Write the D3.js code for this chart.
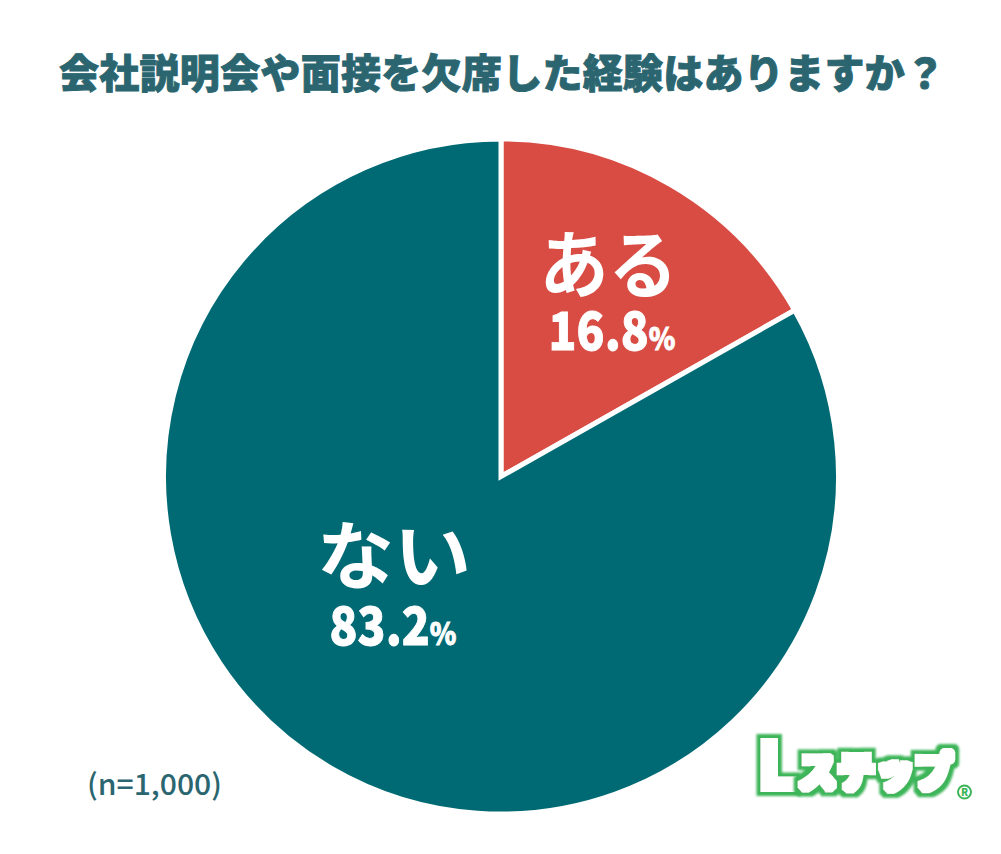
<!DOCTYPE html>
<html>
<head>
<meta charset="utf-8">
<script src="https://cdn.jsdelivr.net/npm/d3@7"></script>
<style>
  html, body { margin: 0; padding: 0; background: #fff; }
  svg { display: block; }
  text { font-family: "Noto Sans CJK JP", "Noto Sans", sans-serif; }
</style>
</head>
<body>
<svg id="chart" width="1001" height="854"></svg>
<script>
const title = "会社説明会や面接を欠席した経験はありますか？";
const sampleNote = "(n=1,000)";
const categories = ["ある", "ない"];
const shares = [16.8, 83.2];
const colors = ["#d84c43", "#006a74"];

const svg = d3.select("#chart");
const cx = 501, cy = 476.5, radius = 337.5;
const green = "#3cb558";

// logo outline: white core and green rim grown out of the glyph shape
const filter = svg.append("defs").append("filter")
  .attr("id", "logoOutline")
  .attr("x", "-30%").attr("y", "-30%").attr("width", "160%").attr("height", "160%");
filter.append("feMorphology").attr("in", "SourceAlpha").attr("operator", "dilate").attr("radius", 7).attr("result", "outer");
filter.append("feGaussianBlur").attr("in", "outer").attr("stdDeviation", 1.2).attr("result", "outerSoft");
filter.append("feFlood").attr("flood-color", green).attr("result", "greenFill");
filter.append("feComposite").attr("in", "greenFill").attr("in2", "outerSoft").attr("operator", "in").attr("result", "rim");
filter.append("feMorphology").attr("in", "SourceAlpha").attr("operator", "dilate").attr("radius", 2.5).attr("result", "inner");
filter.append("feGaussianBlur").attr("in", "inner").attr("stdDeviation", 0.7).attr("result", "innerSoft");
filter.append("feFlood").attr("flood-color", "#fff").attr("result", "whiteFill");
filter.append("feComposite").attr("in", "whiteFill").attr("in2", "innerSoft").attr("operator", "in").attr("result", "core");
const merge = filter.append("feMerge");
merge.append("feMergeNode").attr("in", "rim");
merge.append("feMergeNode").attr("in", "core");

svg.append("text")
  .attr("x", 59).attr("y", 88)
  .attr("fill", "#2b6670")
  .attr("stroke", "#2b6670")
  .attr("stroke-width", 0.9)
  .attr("font-size", 40)
  .attr("font-weight", 900)
  .attr("textLength", 886)
  .attr("lengthAdjust", "spacing")
  .text(title);

const pie = d3.pie().sort(null).value(d => d.value);
const arc = d3.arc().innerRadius(0).outerRadius(radius);
const rows = categories.map((c, i) => ({ name: c, value: shares[i], color: colors[i] }));
const arcs = pie(rows);

const g = svg.append("g").attr("transform", `translate(${cx},${cy})`);
g.selectAll("path").data(arcs).join("path")
  .attr("d", arc)
  .attr("fill", d => d.data.color)
  .attr("stroke", "#fff")
  .attr("stroke-width", 5)
  .attr("stroke-linejoin", "miter");

// label layout per slice: name x, name baseline, name width, percent x, percent baseline
const labelPos = [
  [107.5, -185, 138, 111, -127],
  [-107, 106, 154, -108, 168]
];

g.selectAll("text.name").data(arcs).join("text")
  .attr("class", "name")
  .attr("text-anchor", "middle")
  .attr("x", (d, i) => labelPos[i][0])
  .attr("y", (d, i) => labelPos[i][1])
  .attr("fill", "#fff")
  .attr("font-size", 74)
  .attr("font-weight", 700)
  .attr("textLength", (d, i) => labelPos[i][2])
  .attr("lengthAdjust", "spacingAndGlyphs")
  .text(d => d.data.name);

const pct = g.selectAll("text.pct").data(arcs).join("text")
  .attr("class", "pct")
  .attr("text-anchor", "middle")
  .attr("transform", (d, i) => `translate(${labelPos[i][3]},${labelPos[i][4]}) scale(1,1.15)`)
  .attr("fill", "#fff")
  .attr("stroke", "#fff")
  .attr("stroke-width", 0.8)
  .attr("font-weight", 900)
  .attr("font-size", 46);
pct.append("tspan").text(d => d.data.value.toFixed(1));
pct.append("tspan").attr("font-size", 27).text("%");

svg.append("text")
  .attr("x", 87).attr("y", 795)
  .attr("fill", "#2b6670")
  .attr("font-size", 29)
  .attr("font-weight", 500)
  .attr("textLength", 135)
  .attr("lengthAdjust", "spacingAndGlyphs")
  .text(sampleNote);

// logo
const logo = svg.append("g");
logo.append("text")
  .attr("x", 758).attr("y", 789)
  .attr("font-size", 64)
  .attr("font-weight", 900)
  .attr("fill", "#000")
  .attr("filter", "url(#logoOutline)")
  .text("L");
logo.append("text")
  .attr("x", 798).attr("y", 787)
  .attr("font-size", 41)
  .attr("font-weight", 900)
  .attr("fill", "#000")
  .attr("textLength", 155)
  .attr("lengthAdjust", "spacingAndGlyphs")
  .attr("filter", "url(#logoOutline)")
  .text("ステップ");
logo.append("circle")
  .attr("cx", 964.5).attr("cy", 792)
  .attr("r", 6.5)
  .attr("fill", "none")
  .attr("stroke", green)
  .attr("stroke-width", 2);
logo.append("text")
  .attr("x", 964.5).attr("y", 796)
  .attr("text-anchor", "middle")
  .attr("font-size", 10)
  .attr("font-weight", 900)
  .attr("fill", green)
  .text("R");
</script>
</body>
</html>
